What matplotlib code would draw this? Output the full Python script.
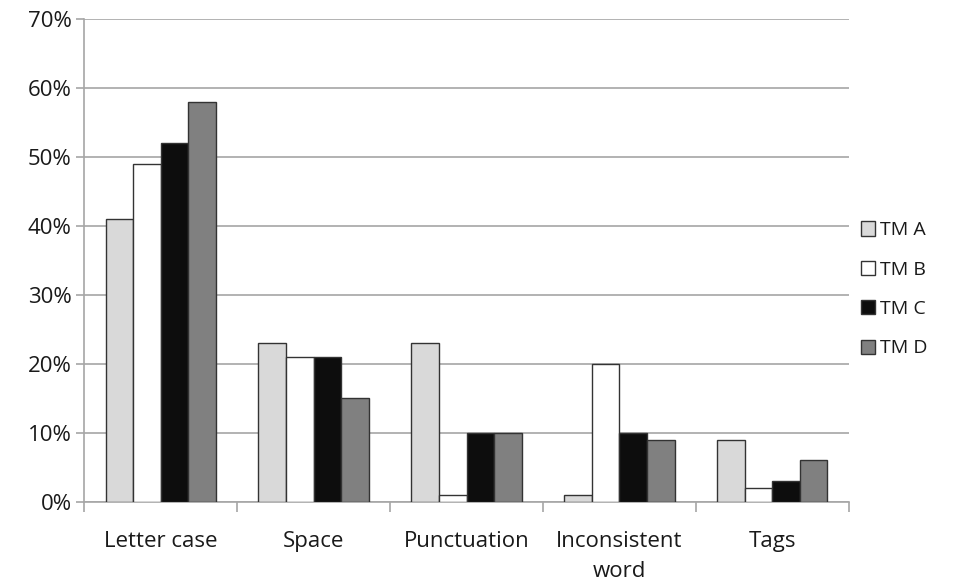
import matplotlib
matplotlib.use("Agg")
import matplotlib.pyplot as plt
import numpy as np
from matplotlib.ticker import FuncFormatter, FixedLocator

categories = ["Letter case", "Space", "Punctuation", "Inconsistent\nword", "Tags"]
series_names = ["TM A", "TM B", "TM C", "TM D"]
tm_a = [41, 23, 23, 1, 9]
tm_b = [49, 21, 1, 20, 2]
tm_c = [52, 21, 10, 10, 3]
tm_d = [58, 15, 10, 9, 6]
series = [tm_a, tm_b, tm_c, tm_d]
colors = ["#d9d9d9", "#ffffff", "#0d0d0d", "#808080"]

plt.rcParams['font.family'] = ['Open Sans', 'DejaVu Sans']
fig = plt.figure(figsize=(9.78, 5.87), dpi=100)
ax = fig.add_axes([0.086, 0.145, 0.782, 0.823])

x = np.arange(len(categories))
bw = 0.18
for i, (vals, c, name) in enumerate(zip(series, colors, series_names)):
    ax.bar(x + (i - 1.5) * bw, vals, bw, color=c, edgecolor="#333333",
           linewidth=1.0, label=name, zorder=3)

ax.set_xlim(-0.5, len(categories) - 0.5)
ax.set_ylim(0, 70)
ax.set_yticks(np.arange(0, 71, 10))
ax.yaxis.set_major_formatter(FuncFormatter(lambda v, p: f"{int(v)}%"))
ax.grid(axis="y", color="#a6a6a6", linewidth=1.2, zorder=0)
ax.set_xticks(x)
ax.set_xticklabels(categories, fontsize=16, linespacing=1.55, color="#1a1a1a")
ax.tick_params(axis="x", length=0, pad=21)
ax.xaxis.set_minor_locator(FixedLocator(np.arange(-0.5, len(categories), 1.0)))
ax.tick_params(axis="x", which="minor", length=7, width=1.2, color="#a6a6a6")
ax.tick_params(axis="y", labelsize=16, length=6, width=1.2, color="#a6a6a6",
               pad=3, labelcolor="#1a1a1a")
for s in ["top", "right"]:
    ax.spines[s].set_visible(False)
for s in ["left", "bottom"]:
    ax.spines[s].set_color("#a6a6a6")
    ax.spines[s].set_linewidth(1.2)

leg = ax.legend(loc="center left", bbox_to_anchor=(1.005, 0.44), frameon=False,
                fontsize=14, handlelength=0.75, handleheight=0.75,
                handletextpad=0.25, labelspacing=1.1, borderaxespad=0)
for t in leg.get_texts():
    t.set_color("#1a1a1a")
fig.savefig("out.png", dpi=100)
